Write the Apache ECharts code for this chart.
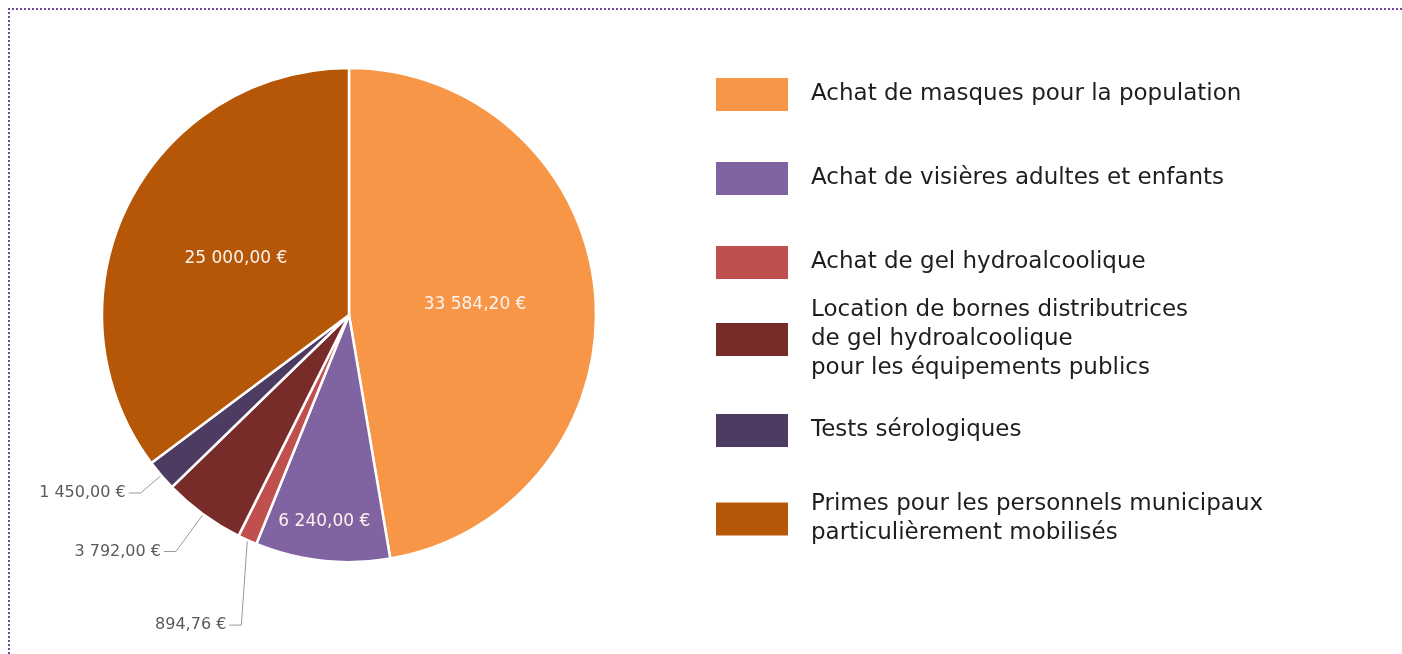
<!DOCTYPE html>
<html>
<head>
<meta charset="utf-8">
<script src="https://cdn.jsdelivr.net/npm/echarts@6/dist/echarts.min.js"></script>
<style>
  html, body { margin: 0; padding: 0; background: #fff; }
  #main { width: 1402px; height: 654px; }
  /* cadre pointillé violet en haut et à gauche */
  #cadre {
    position: absolute; left: 8px; top: 8px; width: 1400px; height: 660px;
    border-left: 2px dotted #7345a3; border-top: 2px dotted #7345a3;
    pointer-events: none;
  }
</style>
</head>
<body>
<div id="main"></div>
<div id="cadre"></div>
<script>
// données du graphique
var categories = [
  "Achat de masques pour la population",
  "Achat de visières adultes et enfants",
  "Achat de gel hydroalcoolique",
  "Location de bornes distributrices\nde gel hydroalcoolique\npour les équipements publics",
  "Tests sérologiques",
  "Primes pour les personnels municipaux\nparticulièrement mobilisés"
];
var values = [33584.20, 6240.00, 894.76, 3792.00, 1450.00, 25000.00];
var colors = ["#F79646", "#8064A2", "#C0504D", "#772C2A", "#4D3B62", "#B65708"];

// format français : 33 584,20 €
function euro(v) {
  var s = v.toFixed(2).split(".");
  return s[0].replace(/\B(?=(\d{3})+(?!\d))/g, " ") + "," + s[1] + " €";
}

var FONT = "DejaVu Sans";

// étiquettes dans les parts (grandes) ou dehors avec trait (petites)
var insideIdx = [0, 1, 5];
var lineLength = { 2: 85, 3: 46, 4: 27 };

var pieData = [];
for (var i = 0; i < values.length; i++) {
  var item = { value: values[i], name: categories[i], itemStyle: { color: colors[i] } };
  if (insideIdx.indexOf(i) >= 0) {
    item.label = { position: "inside", color: "#fbf4ee", fontSize: 17 };
    item.labelLine = { show: false };
  } else {
    item.labelLine = { length: lineLength[i] };
  }
  pieData.push(item);
}

// une légende par entrée pour garder l'espacement régulier
var legendTops = [71, 155, 239, 291, 407, 485];
var legends = [];
for (var j = 0; j < categories.length; j++) {
  legends.push({
    data: [categories[j]],
    orient: "vertical",
    left: 709,
    top: legendTops[j],
    icon: "rect",
    itemWidth: 74,
    itemHeight: 35,
    selectedMode: false,
    textStyle: {
      fontFamily: FONT, fontSize: 23, color: "#1e1e1e",
      lineHeight: 29, padding: [0, 0, 0, 17]
    }
  });
}

var myChart = echarts.init(document.getElementById("main"));
var option = {
  backgroundColor: "#fff",
  animation: false,
  legend: legends,
  series: [
    {
      type: "pie",
      center: [349, 315],
      radius: 247,
      startAngle: 90,
      clockwise: true,
      itemStyle: { borderColor: "#fff", borderWidth: 2.5 },
      label: {
        show: true,
        position: "outside",
        formatter: function (p) { return euro(p.value); },
        fontFamily: FONT,
        fontSize: 16,
        color: "#5a5a5a",
        distanceToLabelLine: 3
      },
      labelLine: {
        show: true,
        length2: 12,
        lineStyle: { color: "#999", width: 1 }
      },
      labelLayout: function (p) {
        // étiquette des visières plus près du bord
        if (p.dataIndex === 1) return { dx: -11, dy: 81 };
        // étiquette du gel sous la part, trait presque vertical
        if (p.dataIndex === 2 && p.labelLinePoints) {
          var pts = p.labelLinePoints;
          var a = pts[0];
          var b = [a[0] - 6, a[1] + 85];
          var c = [b[0] - 12, b[1]];
          return {
            dx: c[0] - pts[2][0],
            dy: c[1] - pts[2][1],
            labelLinePoints: [a, b, c]
          };
        }
      },
      emphasis: { disabled: true },
      data: pieData
    }
  ]
};
myChart.setOption(option);
</script>
</body>
</html>
